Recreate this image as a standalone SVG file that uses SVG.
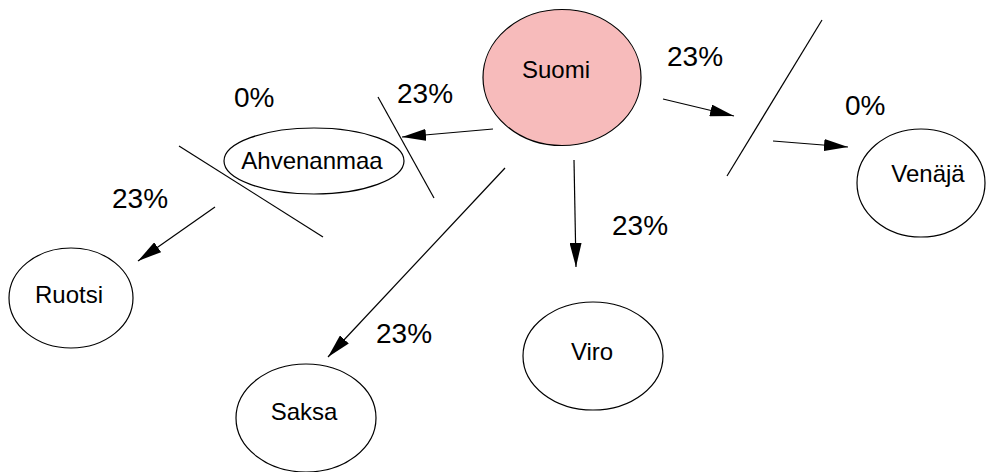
<svg xmlns="http://www.w3.org/2000/svg" width="989" height="472" viewBox="0 0 989 472">
<style>
.node ellipse{fill:#fff;stroke:#000;stroke-width:1.2}
.node text{font-family:"Liberation Sans",Arial,sans-serif;font-size:24px;fill:#000;text-anchor:middle}
.lbl{font-family:"Liberation Sans",Arial,sans-serif;font-size:28px;fill:#000}
.conn line{stroke:#000;stroke-width:1.2;fill:none}
</style>
<defs>
<marker id="ah" markerUnits="userSpaceOnUse" markerWidth="24" markerHeight="12" refX="24" refY="6" orient="auto" viewBox="0 0 24 12">
<path d="M0,0 L24,6 L0,12 z" fill="#000"/>
</marker>
</defs>
<rect width="989" height="472" fill="#fff"/>
<g id="connectors" class="conn">
<line x1="493" y1="129" x2="402" y2="137" marker-end="url(#ah)"/>
<line x1="378" y1="97" x2="434" y2="198"/>
<line x1="215" y1="207" x2="138" y2="261" marker-end="url(#ah)"/>
<line x1="179" y1="146" x2="323" y2="237"/>
<line x1="505" y1="168" x2="328" y2="357" marker-end="url(#ah)"/>
<line x1="574" y1="160" x2="576" y2="267" marker-end="url(#ah)"/>
<line x1="663" y1="99" x2="734" y2="116" marker-end="url(#ah)"/>
<line x1="822" y1="20" x2="727" y2="176"/>
<line x1="773" y1="141" x2="848" y2="147" marker-end="url(#ah)"/>
</g>
<g id="labels">
<text class="lbl" x="397" y="103">23%</text>
<text class="lbl" x="234" y="107">0%</text>
<text class="lbl" x="112" y="208">23%</text>
<text class="lbl" x="667" y="66">23%</text>
<text class="lbl" x="845" y="115">0%</text>
<text class="lbl" x="612" y="235">23%</text>
<text class="lbl" x="376" y="343">23%</text>
</g>
<g id="suomi" class="node"><ellipse cx="562" cy="77.5" rx="79" ry="68" style="fill:#f7bbbb"/><text x="556" y="78">Suomi</text></g>
<g id="ahvenanmaa" class="node"><ellipse cx="314" cy="161" rx="90" ry="33"/><text x="312" y="169">Ahvenanmaa</text></g>
<g id="venaja" class="node"><ellipse cx="921" cy="183" rx="64" ry="54"/><text x="928" y="182">Venäjä</text></g>
<g id="ruotsi" class="node"><ellipse cx="71" cy="298" rx="62" ry="50"/><text x="69" y="303">Ruotsi</text></g>
<g id="saksa" class="node"><ellipse cx="306" cy="418" rx="70" ry="54"/><text x="304" y="420">Saksa</text></g>
<g id="viro" class="node"><ellipse cx="593" cy="356" rx="70" ry="54"/><text x="592" y="360">Viro</text></g>
</svg>
